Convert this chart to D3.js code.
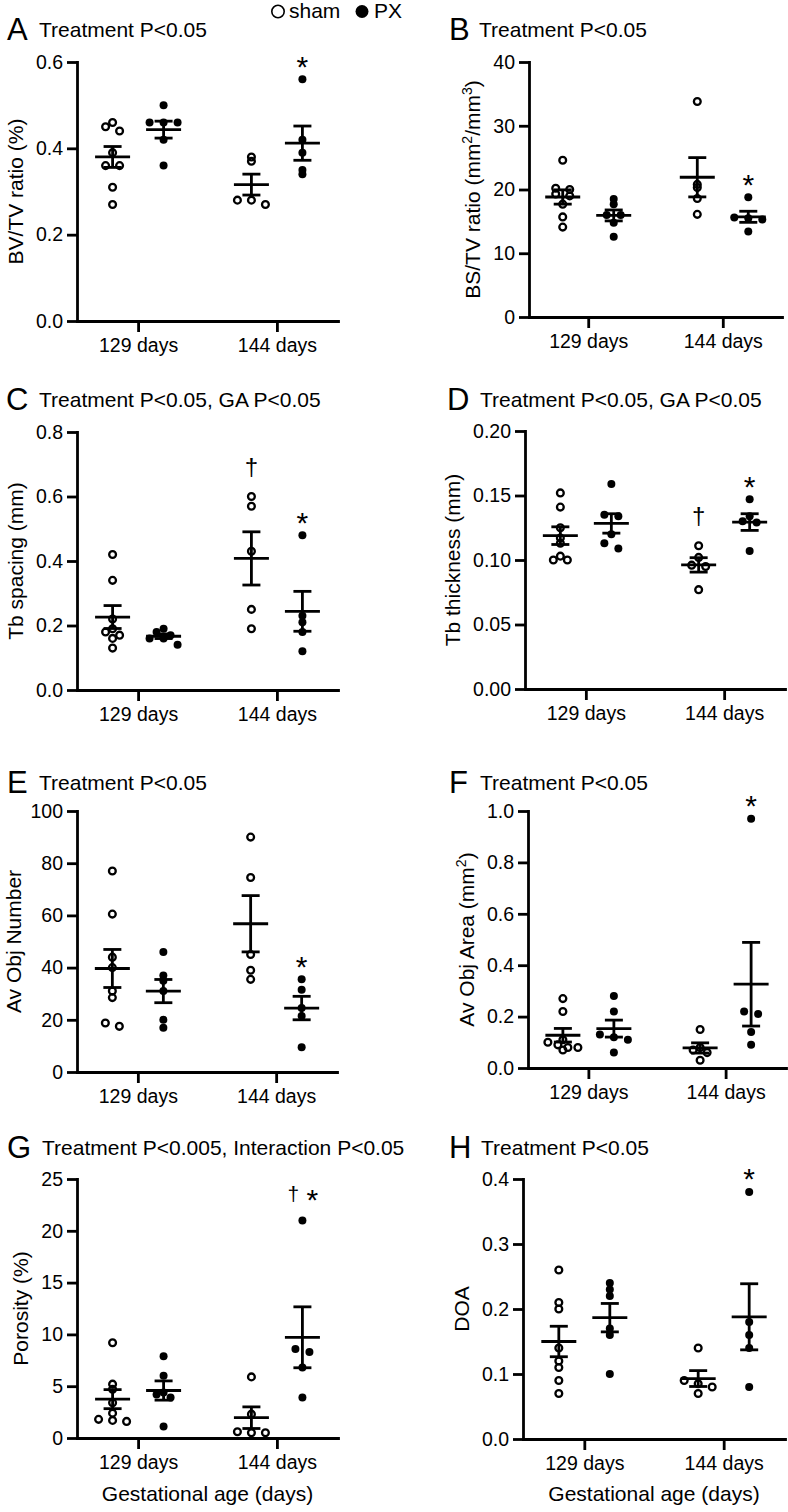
<!DOCTYPE html>
<html><head><meta charset="utf-8">
<script src="https://cdn.jsdelivr.net/npm/d3@7"></script>
<style>
body{margin:0;background:#fff}
svg{display:block}
text{font-family:"Liberation Sans",Arial,Helvetica,sans-serif;fill:#000}
</style>
</head><body>
<svg id="chart" width="788" height="1512"></svg>
<script>
// ---------- data ----------
const categories = ["129 days", "144 days"];
const groups = ["sham", "PX"];

// each: [values at 129 days, values at 144 days]
const bvtvSham = [[0.46, 0.45, 0.44, 0.39, 0.36, 0.36, 0.31, 0.27], [0.38, 0.37, 0.28, 0.28, 0.27]];
const bvtvPX   = [[0.50, 0.46, 0.46, 0.46, 0.42, 0.36], [0.56, 0.42, 0.39, 0.35, 0.34]];
const bvtvTicks = [0, 0.2, 0.4, 0.6];

const bstvSham = [[24.6, 20.2, 20.0, 19.3, 19.0, 17.7, 15.7, 14.1], [33.8, 20.8, 20.3, 18.6, 16.1]];
const bstvPX   = [[18.5, 17.7, 16.0, 16.0, 14.8, 12.6], [18.8, 15.6, 15.5, 15.3, 13.4]];
const bstvTicks = [0, 10, 20, 30, 40];

const tbspSham = [[0.42, 0.34, 0.22, 0.19, 0.18, 0.17, 0.16, 0.13], [0.60, 0.57, 0.43, 0.25, 0.19]];
const tbspPX   = [[0.19, 0.18, 0.17, 0.16, 0.16, 0.14], [0.48, 0.23, 0.21, 0.18, 0.12]];
const tbspTicks = [0, 0.2, 0.4, 0.6, 0.8];

const tbthSham = [[0.152, 0.141, 0.125, 0.117, 0.113, 0.103, 0.100, 0.100], [0.111, 0.102, 0.096, 0.095, 0.077]];
const tbthPX   = [[0.159, 0.135, 0.134, 0.120, 0.113, 0.109], [0.147, 0.134, 0.130, 0.129, 0.107]];
const tbthTicks = [0, 0.05, 0.10, 0.15, 0.20];

const objnSham = [[77, 60.5, 44, 40, 31, 28.5, 18.8, 17.5], [90, 74.5, 45, 39, 35.5]];
const objnPX   = [[46, 37, 35, 31, 20, 17], [35.5, 31.5, 24.5, 21.5, 9.5]];
const objnTicks = [0, 20, 40, 60, 80, 100];

const objaSham = [[0.27, 0.22, 0.11, 0.10, 0.09, 0.08, 0.08, 0.07], [0.15, 0.08, 0.07, 0.06, 0.03]];
const objaPX   = [[0.28, 0.22, 0.13, 0.12, 0.11, 0.06], [0.97, 0.22, 0.21, 0.14, 0.09]];
const objaTicks = [0, 0.2, 0.4, 0.6, 0.8, 1.0];

const poroSham = [[9.2, 5.2, 4.7, 3.4, 2.4, 1.8, 1.7, 1.6], [5.9, 2.3, 0.6, 0.5, 0.5]];
const poroPX   = [[7.9, 6.0, 4.4, 4.2, 3.9, 1.1], [21.0, 8.6, 8.3, 6.8, 3.9]];
const poroTicks = [0, 5, 10, 15, 20, 25];

const doaSham = [[0.26, 0.21, 0.20, 0.14, 0.12, 0.11, 0.09, 0.07], [0.14, 0.09, 0.085, 0.08, 0.07]];
const doaPX   = [[0.24, 0.23, 0.22, 0.17, 0.16, 0.10], [0.38, 0.18, 0.16, 0.14, 0.08]];
const doaTicks = [0, 0.1, 0.2, 0.3, 0.4];

const panelLetters = ["A", "B", "C", "D", "E", "F", "G", "H"];
const panelTitles = [
  "Treatment P<0.05", "Treatment P<0.05",
  "Treatment P<0.05, GA P<0.05", "Treatment P<0.05, GA P<0.05",
  "Treatment P<0.05", "Treatment P<0.05",
  "Treatment P<0.005, Interaction P<0.05", "Treatment P<0.05"
];
// y labels: array of [text, isSuperscript]
const yLabels = [
  [["BV/TV ratio (%)", 0]],
  [["BS/TV ratio (mm", 0], ["2", 1], ["/mm", 0], ["3", 1], [")", 0]],
  [["Tb spacing (mm)", 0]],
  [["Tb thickness (mm)", 0]],
  [["Av Obj Number", 0]],
  [["Av Obj Area (mm", 0], ["2", 1], [")", 0]],
  [["Porosity (%)", 0]],
  [["DOA", 0]]
];
// significance marks: [group, category, symbol]
const marks = [
  [["PX", "144 days", "*"]],
  [["PX", "144 days", "*"]],
  [["sham", "144 days", "†"], ["PX", "144 days", "*"]],
  [["sham", "144 days", "†"], ["PX", "144 days", "*"]],
  [["PX", "144 days", "*"]],
  [["PX", "144 days", "*"]],
  [["PX", "144 days", "†*"]],
  [["PX", "144 days", "*"]]
];
const xTitle = "Gestational age (days)";

const seriesSham = [bvtvSham, bstvSham, tbspSham, tbthSham, objnSham, objaSham, poroSham, doaSham];
const seriesPX = [bvtvPX, bstvPX, tbspPX, tbthPX, objnPX, objaPX, poroPX, doaPX];
const tickSets = [bvtvTicks, bstvTicks, tbspTicks, tbthTicks, objnTicks, objaTicks, poroTicks, doaTicks];
const tickFormats = [".1f", "d", ".1f", ".2f", "d", ".1f", "d", ".1f"];

// ---------- layout ----------
const layout = [
  {x0: 77,  x1: 338, top: 62,   bottom: 321,  ty: 37,   lx: 7,   tx: 39},
  {x0: 529, x1: 782, top: 62,   bottom: 317,  ty: 37,   lx: 449, tx: 479},
  {x0: 77,  x1: 338, top: 432,  bottom: 690,  ty: 407,  lx: 6,   tx: 39},
  {x0: 525, x1: 785, top: 431,  bottom: 689,  ty: 407,  lx: 447, tx: 480},
  {x0: 77,  x1: 337, top: 811,  bottom: 1072, ty: 790,  lx: 7,   tx: 39},
  {x0: 528, x1: 786, top: 811,  bottom: 1068, ty: 790,  lx: 449, tx: 480},
  {x0: 77,  x1: 338, top: 1179, bottom: 1438, ty: 1155, lx: 7,   tx: 42},
  {x0: 523, x1: 785, top: 1179, bottom: 1439, ty: 1155, lx: 449, tx: 481}
];

const FONT = '"Liberation Sans", Arial, Helvetica, sans-serif';
const SW = 2.8;
const svg = d3.select("#chart");
svg.append("rect").attr("width", 788).attr("height", 1512).attr("fill", "#fff");

// legend
const leg = svg.append("g");
leg.append("circle").attr("cx", 278).attr("cy", 11.5).attr("r", 6.2)
  .attr("fill", "none").attr("stroke", "#000").attr("stroke-width", 1.6);
leg.append("text").attr("x", 289).attr("y", 18).attr("font-size", 21).text("sham");
leg.append("circle").attr("cx", 362).attr("cy", 11.5).attr("r", 6.5).attr("fill", "#000");
leg.append("text").attr("x", 374).attr("y", 18).attr("font-size", 21).text("PX");

panelLetters.forEach((letter, pi) => {
  const L = layout[pi];
  const g = svg.append("g");
  const ticks = tickSets[pi];
  const y = d3.scaleLinear().domain([0, d3.max(ticks)]).range([L.bottom, L.top]);
  const x = d3.scalePoint().domain(categories).range([L.x0, L.x1]).padding(0.44);
  const sub = d3.scalePoint().domain(groups).range([-25.5, 25.5]);

  // axes
  const yAxis = g.append("g").attr("transform", `translate(${L.x0},0)`)
    .call(d3.axisLeft(y).tickValues(ticks).tickFormat(d3.format(tickFormats[pi]))
      .tickSize(10).tickSizeOuter(0).tickPadding(4));
  const xAxis = g.append("g").attr("transform", `translate(0,${L.bottom})`)
    .call(d3.axisBottom(x).tickSize(11).tickSizeOuter(0).tickPadding(6));
  [yAxis, xAxis].forEach(a => {
    a.attr("font-size", 19.5).attr("font-family", FONT);
    a.selectAll("path,line").attr("stroke", "#000").attr("stroke-width", SW);
    a.select("path.domain").attr("stroke-linecap", "square");
    a.selectAll("text").attr("fill", "#000");
  });

  // title
  g.append("text").attr("x", L.lx).attr("y", L.ty + 3).attr("font-size", 31).text(letter);
  g.append("text").attr("x", L.tx).attr("y", L.ty).attr("font-size", 21).text(panelTitles[pi]);

  // y label
  const bb = yAxis.node().getBBox();
  const labX = Math.max(L.x0 + bb.x - 13, 21);
  const labY = (L.top + L.bottom) / 2;
  const yl = g.append("text").attr("transform", `translate(${labX},${labY}) rotate(-90)`)
    .attr("text-anchor", "middle").attr("font-size", 21);
  let shifted = false;
  yLabels[pi].forEach(([t, sup]) => {
    const ts = yl.append("tspan").text(t);
    if (sup && !shifted) { ts.attr("font-size", 14).attr("dy", -8); shifted = true; }
    else if (!sup && shifted) { ts.attr("dy", 8); shifted = false; }
    else if (sup) ts.attr("font-size", 14);
  });

  // x title (bottom row)
  if (pi >= 6) {
    g.append("text").attr("x", (L.x0 + L.x1) / 2).attr("y", 1501)
      .attr("text-anchor", "middle").attr("font-size", 21).text(xTitle);
  }

  // data
  const dataFor = {sham: seriesSham[pi], PX: seriesPX[pi]};
  const centers = {};
  groups.forEach(gr => {
    categories.forEach((cat, ci) => {
      const vals = dataFor[gr][ci];
      const cx = x(cat) + sub(gr);
      centers[gr + "|" + cat] = {cx, max: d3.max(vals)};
      // Prism-like row binning for horizontal spread
      const pts = vals.map(v => ({v, py: y(v)}));
      const bins = d3.group(pts, d => Math.round((L.bottom - d.py) / 8));
      bins.forEach(list => {
        list.sort((a, b) => a.py - b.py);
        const k = list.length;
        const s = k > 1 ? Math.min(14, 30 / (k - 1)) : 0;
        list.forEach((d, i) => d.dx = (i - (k - 1) / 2) * s);
      });
      const m = d3.mean(vals);
      const sem = d3.deviation(vals) / Math.sqrt(vals.length);
      const pg = g.append("g");
      pg.selectAll("circle").data(pts).join("circle")
        .attr("cx", d => cx + d.dx).attr("cy", d => d.py)
        .attr("r", gr === "sham" ? 3.4 : 4.0)
        .attr("fill", gr === "sham" ? "none" : "#000")
        .attr("stroke", gr === "sham" ? "#000" : "none")
        .attr("stroke-width", 2.3);
      const eb = g.append("g").attr("stroke", "#000").attr("stroke-width", SW);
      eb.append("line").attr("x1", cx - 17.5).attr("x2", cx + 17.5).attr("y1", y(m)).attr("y2", y(m));
      eb.append("line").attr("x1", cx).attr("x2", cx).attr("y1", y(m - sem)).attr("y2", y(m + sem));
      eb.append("line").attr("x1", cx - 9).attr("x2", cx + 9).attr("y1", y(m - sem)).attr("y2", y(m - sem));
      eb.append("line").attr("x1", cx - 9).attr("x2", cx + 9).attr("y1", y(m + sem)).attr("y2", y(m + sem));
    });
  });

  // significance marks
  marks[pi].forEach(([gr, cat, sym]) => {
    const c = centers[gr + "|" + cat];
    const py = y(c.max);
    const syms = sym.split("");
    const combo = syms.length > 1;
    syms.forEach((s, i) => {
      const off = combo ? (i === 0 ? -9 : 10) : 0;
      if (s === "*") {
        g.append("text").attr("x", c.cx + off).attr("y", py - (combo ? 10 : 2.6))
          .attr("text-anchor", "middle").attr("font-size", 30).attr("fill", "#000").text("*");
      } else {
        g.append("text").attr("x", c.cx + off).attr("y", py - (combo ? 19 : 22))
          .attr("text-anchor", "middle").attr("font-size", combo ? 21 : 24)
          .attr("font-family", '"DejaVu Sans", sans-serif')
          .attr("fill", "#000").style("fill", "#000").text("\u2020");
      }
    });
  });
});
</script>
</body></html>
